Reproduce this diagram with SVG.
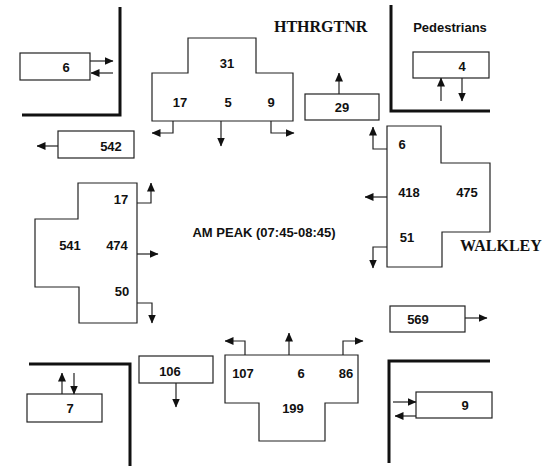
<svg xmlns="http://www.w3.org/2000/svg" width="560" height="466" viewBox="0 0 560 466">
<defs>
<marker id="ah" markerUnits="userSpaceOnUse" markerWidth="9" markerHeight="8" refX="8.5" refY="4" orient="auto">
<path d="M0,0 L9,4 L0,8 z" fill="#111"/>
</marker>
<style>
.bx{fill:#fff;stroke:#222;stroke-width:1.2}
.curb{fill:none;stroke:#111;stroke-width:3}
.c{fill:none;stroke:#222;stroke-width:1.2;marker-end:url(#ah)}
.t{font-family:"Liberation Sans",Arial,sans-serif;font-weight:bold;font-size:13px;fill:#111;text-anchor:middle}
.s{font-family:"Liberation Serif","Times New Roman",serif;font-weight:bold;font-size:16px;fill:#111}
</style>
</defs>
<rect width="560" height="466" fill="#fff"/>
<g id="curbs">
<path class="curb" d="M120,7 V115 H22"/>
<path class="curb" d="M391,5 V111 H490"/>
<path class="curb" d="M29,364 H130 V466"/>
<path class="curb" d="M490,361 H389 V463"/>
</g>
<g id="labels">
<text class="s" x="274" y="32">HTHRGTNR</text>
<text class="s" x="460" y="251">WALKLEY</text>
<text class="t" x="450" y="32">Pedestrians</text>
<text class="t" x="264" y="237">AM PEAK (07:45-08:45)</text>
</g>
<g id="node-north">
<path class="bx" d="M188,38 H256 V73 H293 V121 H152 V73 H188 Z"/>
<text class="t" x="227" y="68">31</text>
<text class="t" x="180" y="107">17</text>
<text class="t" x="228" y="107">5</text>
<text class="t" x="271" y="107">9</text>
</g>
<g id="node-west">
<path class="bx" d="M78,183 H137 V323 H79 V287 H35 V219 H78 Z"/>
<text class="t" x="121" y="204">17</text>
<text class="t" x="70" y="250">541</text>
<text class="t" x="117" y="250">474</text>
<text class="t" x="122" y="296">50</text>
</g>
<g id="node-east">
<path class="bx" d="M387,126 H441 V163 H490 V232 H442 V267 H387 Z"/>
<text class="t" x="402" y="149">6</text>
<text class="t" x="409" y="197">418</text>
<text class="t" x="467" y="197">475</text>
<text class="t" x="407" y="242">51</text>
</g>
<g id="node-south">
<path class="bx" d="M225,355 H358 V403 H325 V441 H259 V403 H225 Z"/>
<text class="t" x="243" y="378">107</text>
<text class="t" x="301" y="378">6</text>
<text class="t" x="346" y="378">86</text>
<text class="t" x="293" y="413">199</text>
</g>
<g id="box-ped-nw">
<rect class="bx" x="20" y="53" width="70" height="27"/>
<text class="t" x="66" y="72">6</text>
</g>
<g id="box-ped-ne">
<rect class="bx" x="413" y="52" width="76" height="26"/>
<text class="t" x="462" y="71">4</text>
</g>
<g id="box-29">
<rect class="bx" x="305" y="94" width="74" height="26"/>
<text class="t" x="342" y="112">29</text>
</g>
<g id="box-542">
<rect class="bx" x="58" y="131" width="76" height="27"/>
<text class="t" x="111" y="151">542</text>
</g>
<g id="box-569">
<rect class="bx" x="390" y="306" width="75" height="26"/>
<text class="t" x="418" y="324">569</text>
</g>
<g id="box-106">
<rect class="bx" x="139" y="356" width="74" height="27"/>
<text class="t" x="170" y="376">106</text>
</g>
<g id="box-ped-sw">
<rect class="bx" x="27" y="394" width="75" height="28"/>
<text class="t" x="70" y="413">7</text>
</g>
<g id="box-ped-se">
<rect class="bx" x="416" y="392" width="76" height="26"/>
<text class="t" x="465" y="410">9</text>
</g>
<g id="connectors">
<path class="c" d="M90,61 H113"/>
<path class="c" d="M113,73 H91"/>
<path class="c" d="M441,101 V78"/>
<path class="c" d="M462,78 V101"/>
<path class="c" d="M339,94 V73"/>
<path class="c" d="M58,146 H37"/>
<path class="c" d="M173,121 V133 H152"/>
<path class="c" d="M221,121 V146"/>
<path class="c" d="M271,121 V133 H294"/>
<path class="c" d="M137,203 H151 V183"/>
<path class="c" d="M137,254 H158"/>
<path class="c" d="M137,303 H152 V323"/>
<path class="c" d="M387,149 H373 V127"/>
<path class="c" d="M387,197 H365"/>
<path class="c" d="M387,247 H373 V268"/>
<path class="c" d="M465,318 H487"/>
<path class="c" d="M245,355 V341 H225"/>
<path class="c" d="M289,355 V333"/>
<path class="c" d="M343,355 V341 H363"/>
<path class="c" d="M176,383 V407"/>
<path class="c" d="M62,394 V373"/>
<path class="c" d="M74,373 V394"/>
<path class="c" d="M393,402 H416"/>
<path class="c" d="M416,416 H395"/>
</g>
</svg>
